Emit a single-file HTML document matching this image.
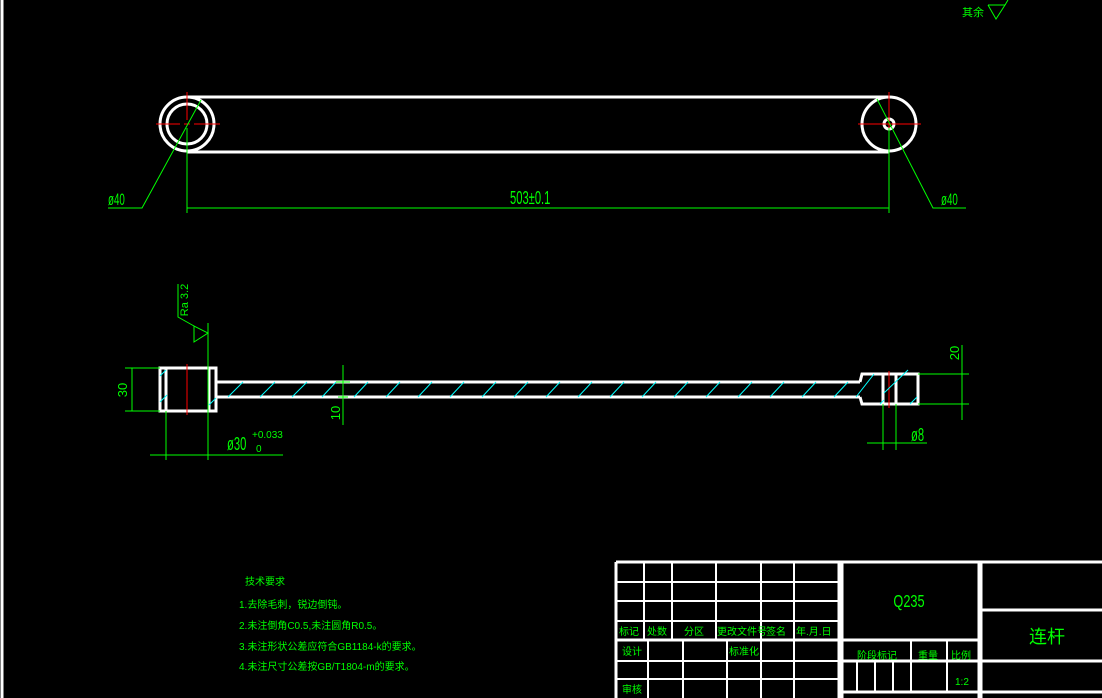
<!DOCTYPE html>
<html><head><meta charset="utf-8"><style>
html,body{margin:0;padding:0;background:#000;width:1102px;height:698px;overflow:hidden}
text{font-family:"Liberation Sans","Noto Sans CJK SC",sans-serif;fill:#00ff00}
</style></head><body>
<svg width="1102" height="698" viewBox="0 0 1102 698" xmlns="http://www.w3.org/2000/svg">
<rect width="1102" height="698" fill="#000"/>
<line x1="2" y1="0" x2="2" y2="698" stroke="#fff" stroke-width="3"/>

<!-- top-right roughness -->
<text x="962" y="16" font-size="11">其余</text>
<polyline points="988,5 1005,5 996,19 988,5" fill="none" stroke="#0f0" stroke-width="1"/>
<line x1="1005" y1="5" x2="1008" y2="0" stroke="#0f0"/>

<!-- top view -->
<g stroke="#fff" stroke-width="3" fill="none">
<line x1="187" y1="97" x2="889" y2="97"/>
<line x1="187" y1="152" x2="889" y2="152"/>
<circle cx="187" cy="124" r="27" fill="#000"/>
<circle cx="187" cy="124" r="20"/>
<circle cx="889" cy="124" r="27" fill="#000"/>
<circle cx="889" cy="124" r="5"/>
</g>
<g stroke="#f00" stroke-width="1">
<line x1="156" y1="124" x2="180" y2="124"/><line x1="184" y1="124" x2="190" y2="124"/><line x1="194" y1="124" x2="220" y2="124"/>
<line x1="187" y1="92" x2="187" y2="120"/><line x1="187" y1="128" x2="187" y2="132"/>
<line x1="858" y1="124" x2="921" y2="124"/>
<line x1="889" y1="92" x2="889" y2="157"/>
</g>
<g stroke="#0f0" stroke-width="1" fill="none">
<line x1="187" y1="128" x2="187" y2="213"/>
<line x1="889" y1="128" x2="889" y2="213"/>
<line x1="187" y1="208" x2="889" y2="208"/>
<polyline points="201,100 142,208 108,208"/>
<polyline points="877,99 933,208 966,208"/>
</g>
<text transform="translate(108,205) scale(0.75,1.25)" font-size="13">ø40</text>
<text transform="translate(941,205) scale(0.75,1.25)" font-size="13">ø40</text>
<text transform="translate(510,204) scale(0.8,1.3)" font-size="14">503±0.1</text>

<!-- side view -->
<g stroke="#fff" stroke-width="3" fill="none">
<rect x="160" y="368" width="56" height="43"/>
<line x1="166" y1="368" x2="166" y2="411"/>
<line x1="209" y1="368" x2="209" y2="411"/>
<line x1="216" y1="382" x2="860" y2="382"/>
<line x1="216" y1="397" x2="860" y2="397"/>
<polyline points="860,382 862,374 918,374 918,404 862,404 860,397"/>
<line x1="883" y1="374" x2="883" y2="404"/>
<line x1="896" y1="374" x2="896" y2="404"/>
</g>
<line x1="187" y1="364" x2="187" y2="415" stroke="#f00"/>
<line x1="889" y1="371" x2="889" y2="408" stroke="#f00"/>
<g stroke="#0ff" stroke-width="1">
<line x1="160" y1="402" x2="167" y2="395"/><line x1="160" y1="376" x2="166" y2="370"/>
<line x1="209" y1="405" x2="216" y2="398"/>
<line x1="228" y1="397" x2="243" y2="382"/><line x1="260" y1="397" x2="275" y2="382"/>
<line x1="292" y1="397" x2="307" y2="382"/><line x1="322" y1="397" x2="336" y2="382"/>
<line x1="354" y1="397" x2="368" y2="382"/><line x1="386" y1="397" x2="400" y2="382"/>
<line x1="418" y1="397" x2="432" y2="382"/><line x1="450" y1="397" x2="464" y2="382"/>
<line x1="482" y1="397" x2="496" y2="382"/><line x1="514" y1="397" x2="528" y2="382"/>
<line x1="546" y1="397" x2="560" y2="382"/><line x1="578" y1="397" x2="592" y2="382"/>
<line x1="610" y1="397" x2="624" y2="382"/><line x1="642" y1="397" x2="656" y2="382"/>
<line x1="674" y1="397" x2="688" y2="382"/><line x1="706" y1="397" x2="720" y2="382"/>
<line x1="738" y1="397" x2="752" y2="382"/><line x1="770" y1="397" x2="784" y2="382"/>
<line x1="802" y1="397" x2="816" y2="382"/><line x1="834" y1="397" x2="848" y2="382"/>
<line x1="856" y1="397" x2="874" y2="374"/><line x1="884" y1="393" x2="908" y2="370"/>
<line x1="880" y1="404" x2="884" y2="400"/><line x1="910" y1="404" x2="917" y2="397"/>
</g>
<g stroke="#0f0" stroke-width="1" fill="none">
<line x1="125" y1="368" x2="160" y2="368"/><line x1="125" y1="411" x2="160" y2="411"/>
<line x1="132" y1="368" x2="132" y2="411"/>
<line x1="166" y1="411" x2="166" y2="460"/><line x1="208" y1="323" x2="208" y2="460"/>
<line x1="150" y1="455" x2="283" y2="455"/>
<polyline points="178,284 178,317 194,326"/>
<polygon points="194,326 194,342 208,333"/>
<line x1="343" y1="365" x2="343" y2="425"/>
<line x1="336" y1="382" x2="350" y2="382"/><line x1="338" y1="397" x2="348" y2="397"/>
<line x1="918" y1="374" x2="969" y2="374"/><line x1="918" y1="404" x2="969" y2="404"/>
<line x1="962" y1="345" x2="962" y2="420"/>
<line x1="883" y1="404" x2="883" y2="450"/><line x1="896" y1="404" x2="896" y2="450"/>
<line x1="867" y1="443" x2="927" y2="443"/>
</g>
<text transform="translate(127,390) rotate(-90)" font-size="13" text-anchor="middle">30</text>
<text transform="translate(188,300) rotate(-90)" font-size="11" text-anchor="middle">Ra 3.2</text>
<text transform="translate(340,413) rotate(-90)" font-size="13" text-anchor="middle">10</text>
<text transform="translate(959,353) rotate(-90)" font-size="13" text-anchor="middle">20</text>
<text transform="translate(227,450) scale(0.8,1.3)" font-size="14">ø30</text>
<text x="252" y="438" font-size="10">+0.033</text>
<text x="256" y="452" font-size="10">0</text>
<text transform="translate(911,441) scale(0.8,1.3)" font-size="14">ø8</text>

<!-- technical requirements -->
<text x="245" y="585" font-size="10">技术要求</text>
<text x="239" y="608" font-size="10">1.去除毛刺，锐边倒钝。</text>
<text x="239" y="629" font-size="10">2.未注倒角C0.5,未注圆角R0.5。</text>
<text x="239" y="650" font-size="10">3.未注形状公差应符合GB1184-k的要求。</text>
<text x="239" y="670" font-size="10">4.未注尺寸公差按GB/T1804-m的要求。</text>

<!-- title block -->
<g stroke="#fff" stroke-width="3" fill="none">
<line x1="616" y1="562" x2="1102" y2="562"/>
<line x1="616" y1="562" x2="616" y2="698"/>
<line x1="839" y1="562" x2="839" y2="698"/>
<line x1="979" y1="562" x2="979" y2="698"/>
<line x1="616" y1="640" x2="979" y2="640"/>
<line x1="981" y1="562" x2="981" y2="698"/>
<line x1="981" y1="610" x2="1102" y2="610"/><line x1="981" y1="661" x2="1102" y2="661"/>
<line x1="981" y1="692" x2="1102" y2="692"/>
<line x1="842" y1="562" x2="842" y2="698"/>
<line x1="842" y1="661" x2="979" y2="661"/>
<line x1="842" y1="692" x2="979" y2="692"/>
</g>
<g stroke="#fff" stroke-width="2" fill="none">
<line x1="616" y1="582" x2="839" y2="582"/><line x1="616" y1="601" x2="839" y2="601"/>
<line x1="616" y1="621" x2="839" y2="621"/>
<line x1="616" y1="661" x2="839" y2="661"/><line x1="616" y1="679" x2="839" y2="679"/>
<line x1="644" y1="562" x2="644" y2="640"/><line x1="672" y1="562" x2="672" y2="640"/>
<line x1="716" y1="562" x2="716" y2="640"/><line x1="761" y1="562" x2="761" y2="698"/>
<line x1="794" y1="562" x2="794" y2="698"/>
<line x1="648" y1="640" x2="648" y2="698"/><line x1="683" y1="640" x2="683" y2="698"/>
<line x1="727" y1="640" x2="727" y2="698"/>
<line x1="911" y1="640" x2="911" y2="692"/><line x1="947" y1="640" x2="947" y2="692"/>
<line x1="857" y1="661" x2="857" y2="692"/><line x1="875" y1="661" x2="875" y2="692"/><line x1="893" y1="661" x2="893" y2="692"/>
</g>
<g font-size="10">
<text x="619" y="635">标记</text><text x="647" y="635">处数</text><text x="684" y="635">分区</text>
<text x="717" y="635">更改文件号</text><text x="766" y="635">签名</text><text x="796" y="635">年.月.日</text>
<text x="622" y="655">设计</text><text x="729" y="655">标准化</text><text x="622" y="693">审核</text>
<text x="857" y="659">阶段标记</text><text x="918" y="659">重量</text><text x="951" y="659">比例</text>
<text x="955" y="685">1:2</text>
</g>
<text transform="translate(909,607) scale(0.85,1.2)" font-size="15" text-anchor="middle">Q235</text>
<text x="1047" y="643" font-size="18" text-anchor="middle">连杆</text>
</svg>
</body></html>
